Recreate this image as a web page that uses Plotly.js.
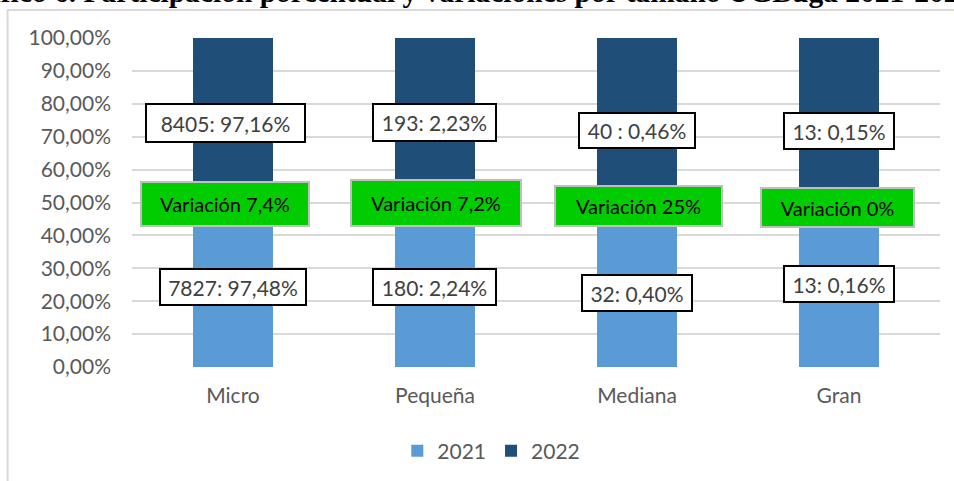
<!DOCTYPE html>
<html>
<head>
<meta charset="utf-8">
<script src="https://cdn.plot.ly/plotly-3.0.1.min.js"></script>
<style>
  html, body { margin: 0; padding: 0; background: #ffffff; }
  #chart { width: 954px; height: 481px; }
</style>
</head>
<body>
<div id="chart"></div>
<script>
// ---- data ----
const categories = ['Micro', 'Pequeña', 'Mediana', 'Gran'];
const counts2021 = [7827, 180, 32, 13];
const counts2022 = [8405, 193, 40, 13];
const labels2021 = ['7827: 97,48%', '180: 2,24%', '32: 0,40%', '13: 0,16%'];
const labels2022 = ['8405: 97,16%', '193: 2,23%', '40 : 0,46%', '13: 0,15%'];
const variations = ['Variación 7,4%', 'Variación 7,2%', 'Variación 25%', 'Variación 0%'];
const titleText = 'Gráfico 6. Participación porcentual y variaciones por tamaño UGBuga 2021-2022';

// ---- label placement (layout only) ----
const pos2022 = { y: [0.742, 0.742, 0.720, 0.717], dx: [-8, -1, 0, 0], w: [161, 125, 118, 112], h: [40, 39, 37, 38] };
const pos2021 = { y: [0.243, 0.243, 0.225, 0.252], dx: [0, -1, 0, 0], w: [148, 125, 112, 112], h: [38, 38, 38, 38] };
const posVar  = { y: [0.495, 0.498, 0.489, 0.485], dx: [-8, 1, 1, -2], w: [170, 172, 169, 155], h: [46, 48, 42, 41] };

const FONT = 'Lato, Carlito, Calibri, "Open Sans", sans-serif';
const GRAY = '#595959';

const traces = [
  { type: 'bar', name: '2021', x: categories, y: counts2021, marker: { color: '#5b9bd5' }, hoverinfo: 'skip' },
  { type: 'bar', name: '2022', x: categories, y: counts2022, marker: { color: '#1f4e79' }, hoverinfo: 'skip' }
];

const annotations = [];
categories.forEach((c, i) => {
  annotations.push({
    xref: 'x', yref: 'y', x: c, y: pos2022.y[i], xshift: pos2022.dx[i],
    text: labels2022[i], showarrow: false,
    font: { family: FONT, size: 21, color: '#404040' },
    bgcolor: '#ffffff', bordercolor: '#000000', borderwidth: 2, borderpad: 0,
    width: pos2022.w[i] - 4, height: pos2022.h[i] - 4, align: 'center', valign: 'middle'
  });
  annotations.push({
    xref: 'x', yref: 'y', x: c, y: pos2021.y[i], xshift: pos2021.dx[i],
    text: labels2021[i], showarrow: false,
    font: { family: FONT, size: 21, color: '#404040' },
    bgcolor: '#ffffff', bordercolor: '#000000', borderwidth: 2, borderpad: 0,
    width: pos2021.w[i] - 4, height: pos2021.h[i] - 4, align: 'center', valign: 'middle'
  });
  annotations.push({
    xref: 'x', yref: 'y', x: c, y: posVar.y[i], xshift: posVar.dx[i],
    text: variations[i], showarrow: false,
    font: { family: FONT, size: 20, color: '#000000' },
    bgcolor: '#00cc00', bordercolor: '#bfbfbf', borderwidth: 2, borderpad: 0,
    width: posVar.w[i] - 4, height: posVar.h[i] - 4, align: 'center', valign: 'middle'
  });
});

// cut-off document caption above the chart
annotations.push({
  xref: 'paper', yref: 'paper', x: -0.228, y: 1.085, xanchor: 'left', yanchor: 'bottom',
  text: '<b>' + titleText + '</b>', showarrow: false,
  font: { family: '"Liberation Serif", "Times New Roman", serif', size: 29.5, color: '#000000' }
});

const layout = {
  width: 954, height: 481,
  margin: { l: 132, r: 14, t: 38, b: 114 },
  paper_bgcolor: '#ffffff', plot_bgcolor: '#ffffff',
  separators: ',.',
  barmode: 'stack', barnorm: 'fraction', bargap: 0.604,
  font: { family: FONT, size: 21, color: GRAY },
  xaxis: {
    type: 'category', range: [-0.5, 3.5], showgrid: false, zeroline: false,
    showline: false, ticks: '', ticklabelstandoff: 14, automargin: false,
    tickfont: { family: FONT, size: 21, color: GRAY }
  },
  yaxis: {
    range: [0, 1], dtick: 0.1, tickformat: '.2%', showgrid: true,
    gridcolor: '#d9d9d9', gridwidth: 2, zeroline: false, showline: false,
    ticks: '', ticklabelstandoff: 20, automargin: false,
    tickfont: { family: FONT, size: 21, color: GRAY }
  },
  showlegend: true,
  legend: {
    orientation: 'h', xref: 'container', yref: 'container',
    x: 0.515, xanchor: 'center', y: 0.062, yanchor: 'middle',
    font: { family: FONT, size: 21, color: GRAY }, traceorder: 'normal',
    itemwidth: 30
  },
  shapes: [
    { type: 'path', xref: 'paper', yref: 'paper',
      path: 'M -0.154 -0.36 L -0.154 1.085 L 1.05 1.085',
      line: { color: '#d9d9d9', width: 2 } }
  ],
  annotations: annotations
};

Plotly.newPlot('chart', traces, layout, { staticPlot: true, displayModeBar: false });
</script>
</body>
</html>
